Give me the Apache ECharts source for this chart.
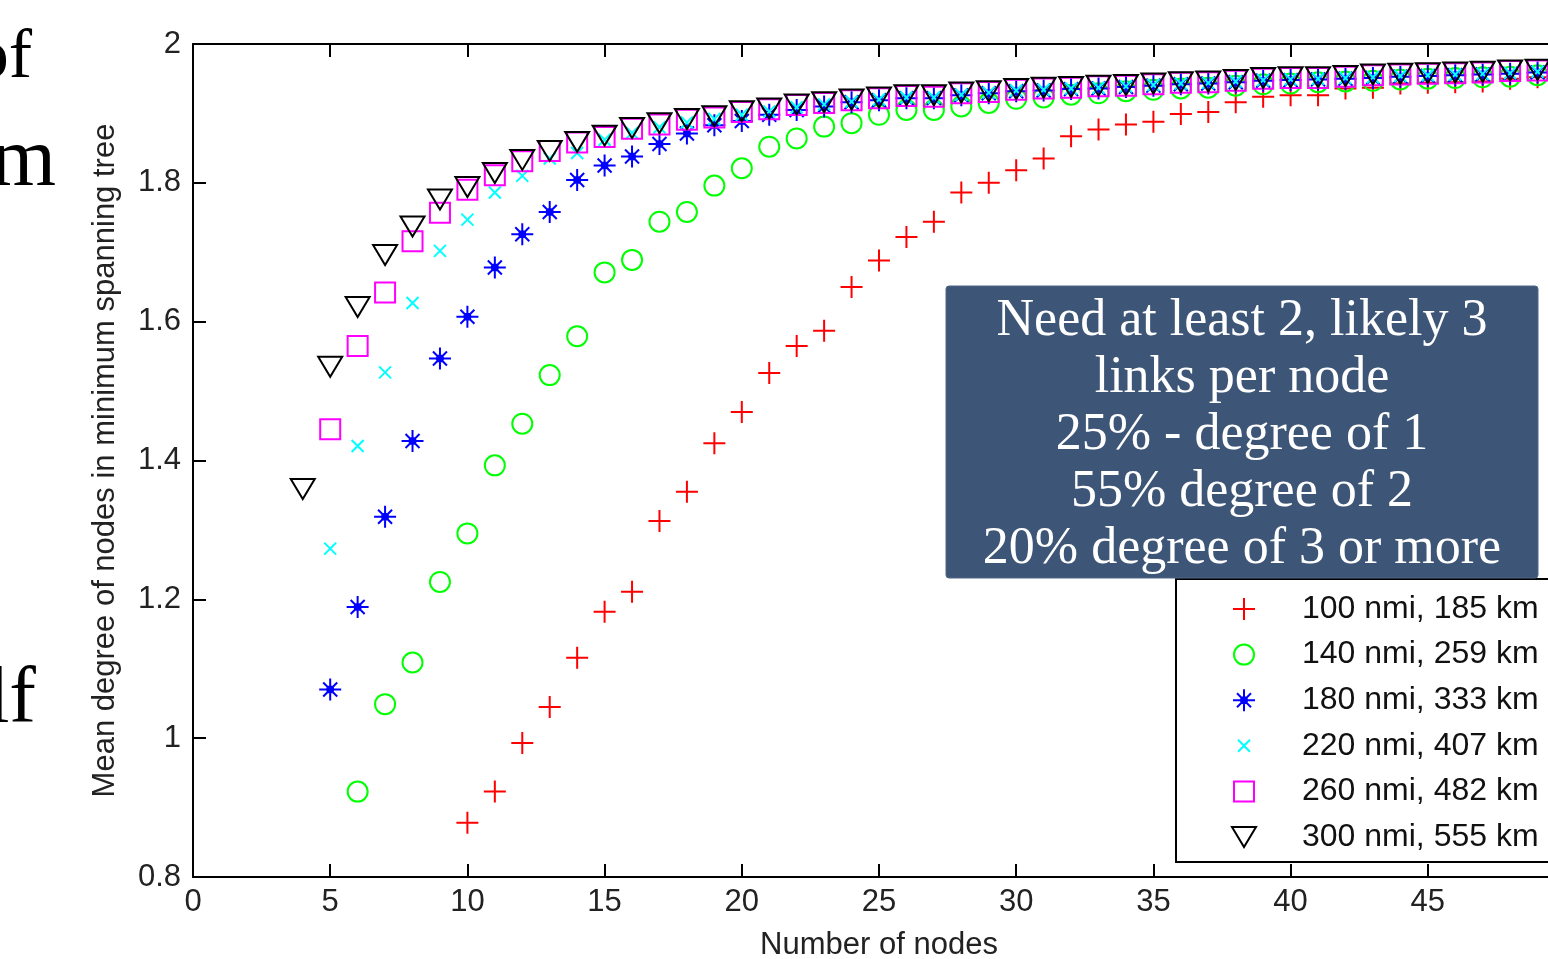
<!DOCTYPE html>
<html>
<head>
<meta charset="utf-8">
<script src="https://cdn.jsdelivr.net/npm/echarts@6/dist/echarts.min.js"></script>
<style>
  html, body { margin: 0; padding: 0; background: #fff; }
  #chart { width: 1548px; height: 959px; }
</style>
</head>
<body>
<div id="chart"></div>
<script>
// number of nodes (x)
const nodes = [4, 5, 6, 7, 8, 9, 10, 11, 12, 13, 14, 15, 16, 17, 18, 19, 20, 21, 22, 23, 24, 25, 26,
  27, 28, 29, 30, 31, 32, 33, 34, 35, 36, 37, 38, 39, 40, 41, 42, 43, 44, 45, 46, 47, 48, 49];

// mean degree per link range (null = not plotted)
const r100 = [null, null, null, null, null, null, 0.878, 0.923, 0.993, 1.045, 1.116, 1.182, 1.211,
  1.313, 1.355, 1.425, 1.470, 1.526, 1.565, 1.587, 1.650, 1.688, 1.722, 1.744, 1.786, 1.800, 1.818,
  1.835, 1.867, 1.877, 1.884, 1.888, 1.899, 1.902, 1.916, 1.924, 1.926, 1.926, 1.936, 1.937, 1.943,
  1.944, 1.945, 1.946, 1.950, 1.952];
const r140 = [null, null, 0.923, 1.049, 1.109, 1.225, 1.295, 1.393, 1.453, 1.523, 1.579, 1.671, 1.689,
  1.744, 1.758, 1.796, 1.821, 1.852, 1.864, 1.881, 1.886, 1.898, 1.905, 1.905, 1.910, 1.915, 1.921,
  1.923, 1.927, 1.929, 1.932, 1.934, 1.936, 1.937, 1.940, 1.942, 1.943, 1.945, 1.946, 1.947, 1.949,
  1.950, 1.951, 1.952, 1.953, 1.955];
const r180 = [null, 1.070, 1.189, 1.319, 1.428, 1.547, 1.607, 1.678, 1.726, 1.758, 1.804, 1.825, 1.838,
  1.856, 1.871, 1.883, 1.889, 1.898, 1.905, 1.910, 1.916, 1.919, 1.922, 1.922, 1.926, 1.929, 1.932,
  1.933, 1.935, 1.936, 1.938, 1.940, 1.942, 1.943, 1.945, 1.947, 1.948, 1.949, 1.950, 1.951, 1.953,
  1.954, 1.955, 1.956, 1.957, 1.959];
const r220 = [null, 1.273, 1.421, 1.527, 1.627, 1.702, 1.747, 1.786, 1.810, 1.835, 1.843, 1.862, 1.872,
  1.880, 1.887, 1.892, 1.898, 1.903, 1.909, 1.913, 1.917, 1.920, 1.923, 1.923, 1.927, 1.930, 1.933,
  1.934, 1.936, 1.937, 1.939, 1.941, 1.943, 1.944, 1.946, 1.948, 1.949, 1.950, 1.951, 1.952, 1.954,
  1.955, 1.956, 1.957, 1.958, 1.960];
const r260 = [null, 1.445, 1.565, 1.642, 1.716, 1.757, 1.790, 1.811, 1.831, 1.846, 1.858, 1.866, 1.878,
  1.884, 1.891, 1.894, 1.902, 1.906, 1.912, 1.915, 1.919, 1.922, 1.925, 1.924, 1.929, 1.931, 1.934,
  1.936, 1.937, 1.939, 1.940, 1.942, 1.944, 1.945, 1.947, 1.950, 1.951, 1.951, 1.953, 1.955, 1.956,
  1.957, 1.958, 1.959, 1.961, 1.962];
const r300 = [1.359, 1.535, 1.621, 1.696, 1.737, 1.776, 1.794, 1.814, 1.833, 1.846, 1.859, 1.868, 1.879,
  1.886, 1.892, 1.896, 1.903, 1.907, 1.913, 1.916, 1.920, 1.923, 1.926, 1.926, 1.930, 1.932, 1.935,
  1.937, 1.938, 1.940, 1.941, 1.943, 1.945, 1.946, 1.948, 1.951, 1.952, 1.952, 1.954, 1.956, 1.957,
  1.958, 1.959, 1.960, 1.962, 1.963];

const seriesNames = ['100 nmi, 185 km', '140 nmi, 259 km', '180 nmi, 333 km',
  '220 nmi, 407 km', '260 nmi, 482 km', '300 nmi, 555 km'];
const xTicks = [0, 5, 10, 15, 20, 25, 30, 35, 40, 45, 50];
const yTicks = [0.8, 1, 1.2, 1.4, 1.6, 1.8, 2];

const noteLines = ['Need at least 2, likely 3', 'links per node', '25% - degree of 1',
  '55% degree of 2', '20% degree of 3 or more'];

// matlab-like markers, all drawn in a 26x26 box (the bare M points pin the box)
const BOX = 'M0,0 M26,26 ';
const markers = {
  plus: 'path://' + BOX + 'M2,13 L24,13 M13,2 L13,24',
  circle: 'path://' + BOX + 'M23,13 A10,10 0 1 1 3,13 A10,10 0 1 1 23,13 Z',
  star: 'path://' + BOX + 'M2,13 L24,13 M13,2 L13,24 M6,6 L20,20 M20,6 L6,20 M16,13 A3,3 0 1 1 10,13 A3,3 0 1 1 16,13 Z',
  cross: 'path://' + BOX + 'M7,7 L19,19 M19,7 L7,19',
  square: 'path://' + BOX + 'M3,3 L23,3 L23,23 L3,23 Z',
  tridown: 'path://' + BOX + 'M1,3 L25,3 L13,23 Z'
};

const styles = [
  { data: r100, symbol: markers.plus, color: '#ff0000', fill: false },
  { data: r140, symbol: markers.circle, color: '#00ff00', fill: false },
  { data: r180, symbol: markers.star, color: '#0000ff', fill: true },
  { data: r220, symbol: markers.cross, color: '#00ffff', fill: false },
  { data: r260, symbol: markers.square, color: '#ff00ff', fill: false },
  { data: r300, symbol: markers.tridown, color: '#000000', fill: false }
];

const sansFont = '"Liberation Sans", Arial, Helvetica, sans-serif';
const serifFont = '"Liberation Serif", "Times New Roman", serif';

const series = styles.map((s, k) => ({
  name: seriesNames[k],
  type: 'scatter',
  symbol: s.symbol,
  symbolSize: 26,
  symbolKeepAspect: true,
  silent: true,
  itemStyle: {
    color: s.fill ? s.color : 'rgba(0,0,0,0)',
    borderColor: s.color,
    borderWidth: 2,
    opacity: 1
  },
  data: nodes.map((n, i) => [n, s.data[i]]).filter(p => p[1] !== null)
}));

const legendData = styles.map((s, k) => ({
  name: seriesNames[k],
  icon: s.symbol,
  itemStyle: {
    color: s.fill ? s.color : 'rgba(0,0,0,0)',
    borderColor: s.color,
    borderWidth: 2
  }
}));

const axisLine = { show: true, onZero: false, lineStyle: { color: '#000', width: 2 } };
const axisTick = { show: true, inside: true, length: 13, lineStyle: { color: '#000', width: 2 } };

const chart = echarts.init(document.getElementById('chart'), null, { renderer: 'canvas' });

chart.setOption({
  backgroundColor: '#ffffff',
  animation: false,
  grid: {
    left: 193, top: 44, width: 1372, height: 833,
    containLabel: false, outerBoundsMode: 'none'
  },
  xAxis: [{
    type: 'value',
    min: xTicks[0],
    max: xTicks[xTicks.length - 1],
    interval: 5,
    position: 'bottom',
    name: 'Number of nodes',
    nameLocation: 'middle',
    nameGap: 53,
    nameTextStyle: { fontFamily: sansFont, fontSize: 31, color: '#222' },
    axisLine: axisLine,
    axisTick: axisTick,
    splitLine: { show: false },
    axisLabel: { fontFamily: sansFont, fontSize: 31, color: '#222', margin: 10 }
  }, {
    type: 'value',
    min: xTicks[0],
    max: xTicks[xTicks.length - 1],
    interval: 5,
    position: 'top',
    axisLine: axisLine,
    axisTick: axisTick,
    splitLine: { show: false },
    axisLabel: { show: false }
  }],
  yAxis: [{
    type: 'value',
    min: yTicks[0],
    max: yTicks[yTicks.length - 1],
    interval: 0.2,
    position: 'left',
    name: 'Mean degree of nodes in minimum spanning tree',
    nameLocation: 'middle',
    nameRotate: 90,
    nameGap: 72,
    nameTextStyle: { fontFamily: sansFont, fontSize: 31, color: '#222' },
    axisLine: axisLine,
    axisTick: axisTick,
    splitLine: { show: false },
    axisLabel: {
      fontFamily: sansFont, fontSize: 31, color: '#222', margin: 12,
      formatter: v => String(Math.round(v * 10) / 10)
    }
  }, {
    type: 'value',
    min: yTicks[0],
    max: yTicks[yTicks.length - 1],
    interval: 0.2,
    position: 'right',
    axisLine: axisLine,
    axisTick: axisTick,
    splitLine: { show: false },
    axisLabel: { show: false }
  }],
  legend: {
    orient: 'vertical',
    left: 1230,
    top: 593,
    padding: 0,
    itemWidth: 106,
    itemHeight: 26,
    itemGap: 13.6,
    symbolKeepAspect: true,
    selectedMode: false,
    z: 6,
    textStyle: { fontFamily: sansFont, fontSize: 32, lineHeight: 28, color: '#111' },
    data: legendData
  },
  graphic: [
    // legend frame
    {
      type: 'rect', z: 5,
      shape: { x: 1176, y: 579, width: 420, height: 283 },
      style: { fill: '#ffffff', stroke: '#000', lineWidth: 2 }
    },
    // annotation box
    {
      type: 'rect', z: 20,
      shape: { x: 946, y: 286, width: 592, height: 292, r: 3 },
      style: { fill: '#3d5576', stroke: '#4f6687', lineWidth: 1 }
    },
    {
      type: 'text', z: 21,
      x: 1242, y: 435,
      style: {
        text: noteLines.join('\n'),
        font: '52px ' + serifFont,
        fill: '#ffffff',
        align: 'center',
        verticalAlign: 'middle',
        lineHeight: 57
      }
    },
    // fragments of the slide text cut by the left edge
    {
      type: 'text', z: 21, x: 32, y: 94,
      style: { text: 'of', font: '70px ' + serifFont, fill: '#000', align: 'right', verticalAlign: 'bottom' }
    },
    {
      type: 'text', z: 21, x: 56, y: 205,
      style: { text: 'm', font: '84px ' + serifFont, fill: '#000', align: 'right', verticalAlign: 'bottom' }
    },
    {
      type: 'text', z: 21, x: 36, y: 741,
      style: { text: 'lf', font: '80px ' + serifFont, fill: '#000', align: 'right', verticalAlign: 'bottom' }
    }
  ],
  series: series
});
</script>
</body>
</html>
